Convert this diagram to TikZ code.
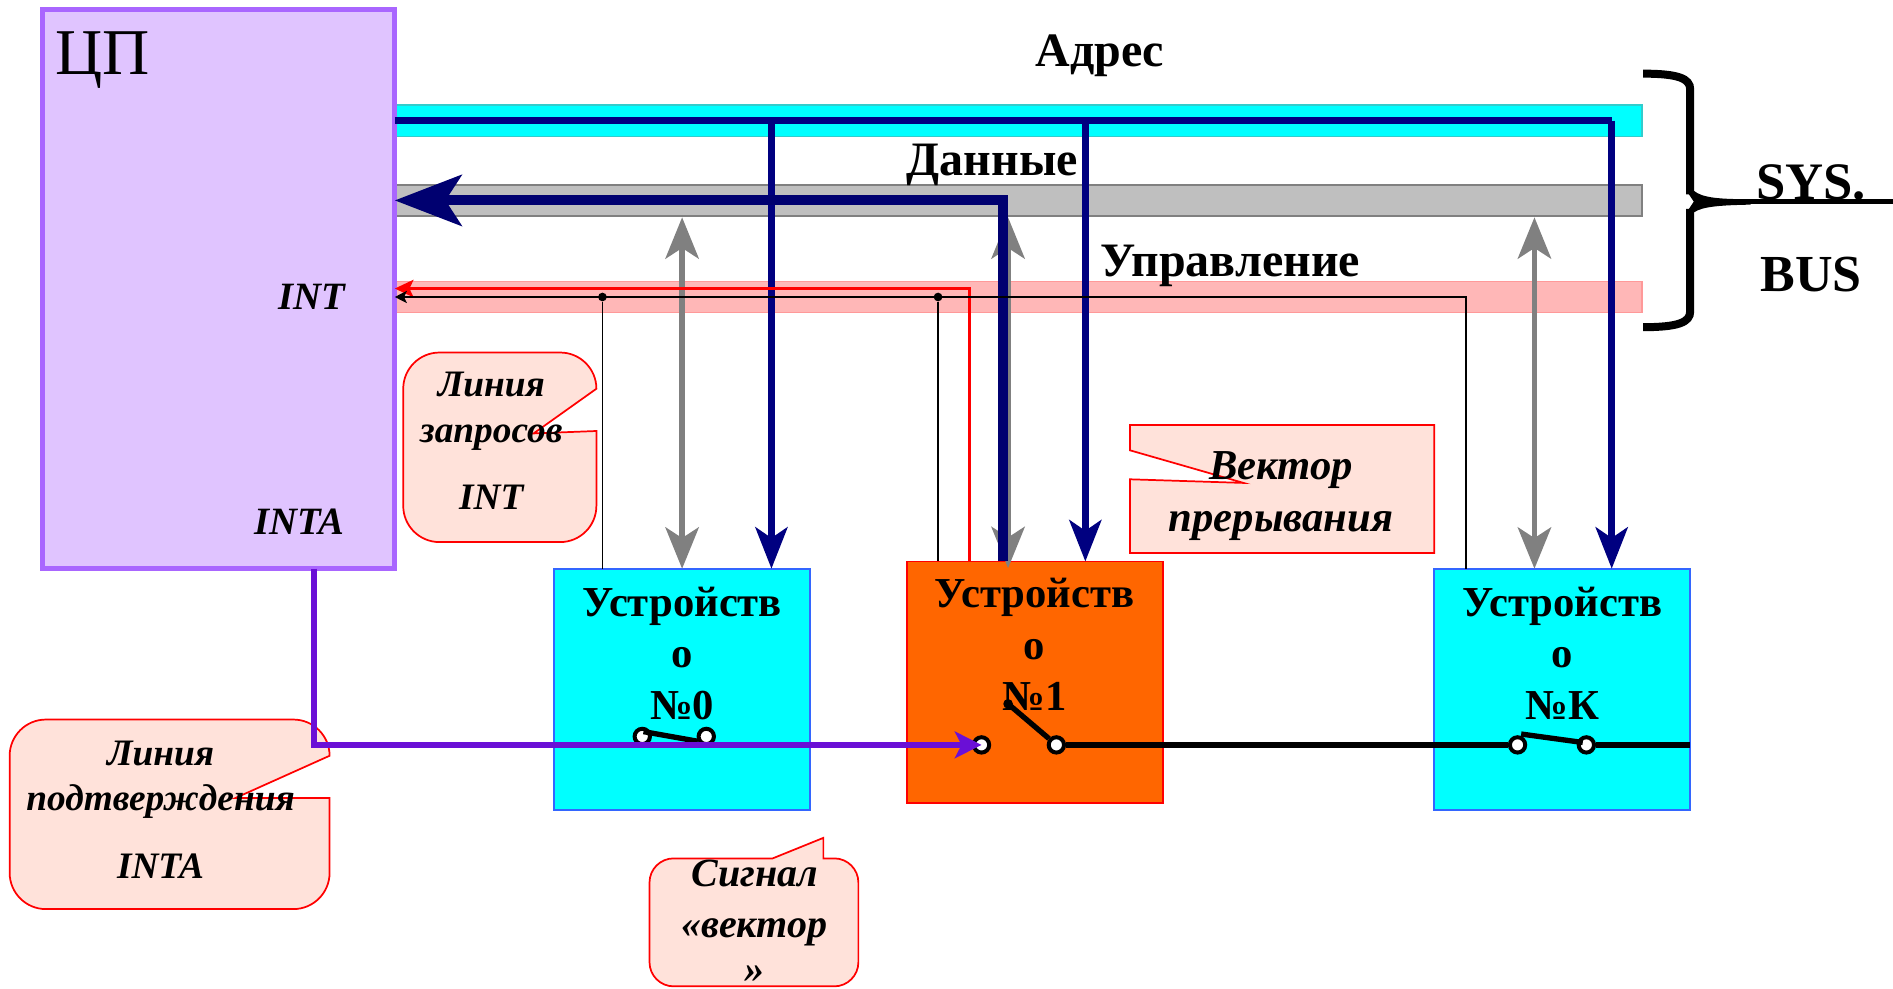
\documentclass[tikz,border=0pt]{standalone}
\usepackage{fontspec}
\setmainfont{Liberation Serif}
\usetikzlibrary{positioning,arrows.meta}
\definecolor{cpufill}{HTML}{E0C4FF}
\definecolor{cpuline}{HTML}{A966FF}
\definecolor{navyline}{HTML}{000080}
\definecolor{vecline}{HTML}{000070}
\definecolor{violetline}{HTML}{6A0FD6}
\definecolor{notefill}{HTML}{FFE2DA}
\definecolor{devline}{HTML}{3366FF}
\definecolor{devfill}{HTML}{00FFFF}
\definecolor{orangefill}{HTML}{FF6600}
\definecolor{pinkfill}{HTML}{FFB7B7}
\definecolor{pinkline}{HTML}{FF9999}
\definecolor{cyanline}{HTML}{33CCCC}
\tikzset{
	busbar/.style={minimum width=935.4pt,minimum height=23.5pt,inner sep=0pt,outer sep=0pt},
	devbox/.style={draw=devline,fill=devfill,line width=1.4pt,minimum width=192pt,minimum height=181pt,inner sep=0pt,outer sep=0pt},
	devtext/.style={align=center,font=\fontsize{32}{38.5}\selectfont\bfseries,inner sep=0pt},
	bustext/.style={font=\fontsize{36}{40}\selectfont\bfseries,inner sep=0pt},
	notetext/.style={align=center,font=\fontsize{28}{34}\selectfont\bfseries\itshape,inner sep=0pt},
	pintext/.style={font=\fontsize{29}{34}\selectfont\bfseries\itshape,inner sep=0pt},
	note/.style={draw=red,fill=notefill,line width=1.3pt},
	addrline/.style={draw=navyline,line width=5pt,-{Stealth[length=31pt,width=24pt,inset=8pt]}},
	dataarrow/.style={draw=gray,line width=4pt,{Stealth[length=31pt,width=25pt,inset=8pt]}-{Stealth[length=31pt,width=25pt,inset=8pt]}},
	busdot/.style={circle,fill=black,minimum size=6.5pt,inner sep=0pt},
	contact/.style={circle,draw=black,fill=white,line width=3pt,minimum size=11.5pt,inner sep=0pt},
	blade/.style={line width=4pt,black},
}
\begin{document}
\begin{tikzpicture}[x=0.9055pt,y=-0.9055pt]
	\useasboundingbox (0,0) rectangle (1568,819);
	%% system bus
	\node[busbar,fill=devfill,draw=cyanline,line width=1pt] (addrbus) at (843.5,100) {};
	\node[busbar,fill=lightgray,draw=gray,line width=1.2pt] (databus) at (843.5,166) {};
	\node[busbar,fill=pinkfill,draw=pinkline,line width=1pt] (ctrlbus) at (843.5,246) {};
	\node[bustext] (addrlabel) at (911,46) {Адрес};
	\node[bustext] (datalabel) at (822,137) {Данные};
	\node[bustext] (ctrllabel) at (1019,220) {Управление};
	%% cpu and devices
	\node[draw=cpuline,fill=cpufill,line width=3.6pt,minimum width=264.4pt,minimum height=419.2pt,inner sep=0pt,outer sep=0pt] (cpu) at (181,239.5) {};
	\node[font=\fontsize{49}{52}\selectfont,inner sep=0pt] (cpulabel) at (85,50) {ЦП};
	\node[pintext] (intpin) at (258,246) {INT};
	\node[pintext] (intapin) at (248,432) {INTA};
	\node[devbox] (dev0) at (565,571) {};
	\node[devbox,fill=orangefill,draw=red] (dev1) at (857,565) {};
	\node[devbox] (devk) at (1294,571) {};
	\node[devtext,below=13.5pt of dev0.north] (dev0text) {Устройств\\о\\№0};
	\node[devtext,below=12.5pt of dev1.north] (dev1text) {Устройств\\о\\№1};
	\node[devtext,below=13.5pt of devk.north] (devktext) {Устройств\\о\\№К};
	%% bidirectional data taps
	\coordinate (tap0) at (565,180);
	\coordinate (tap1) at (835,180);
	\coordinate (tapk) at (1271,180);
	\draw[dataarrow] (tap0) -- (tap0 |- dev0.north);
	\draw[dataarrow] (tap1) -- ([yshift=-5pt]tap1 |- dev1.north);
	\draw[dataarrow] (tapk) -- (tapk |- devk.north);
	%% address line
	\coordinate (addr0) at (639,100);
	\coordinate (addr1) at (899,100);
	\coordinate (addrk) at (1335,100);
	\draw[navyline,line width=5pt] (cpu.east |- addrbus) -- (addrk);
	\draw[addrline] (addr0) -- (addr0 |- dev0.north);
	\draw[addrline] (addr1) -- (addr1 |- dev1.north);
	\draw[addrline] (addrk) -- (addrk |- devk.north);
	%% vector on data lines
	\coordinate (vecstart) at (831,465);
	\coordinate (veccorner) at (831,166);
	\draw[draw=vecline,line width=7.5pt,-{Stealth[length=50pt,width=38pt,inset=12pt]}] (vecstart) -- (veccorner) -- (cpu.east |- veccorner);
	%% int lines
	\coordinate (redstart) at (803,465);
	\coordinate (redcorner) at (803,239);
	\draw[red,line width=2.2pt,-{Stealth[length=14pt,width=13pt,inset=3pt]}] (redstart) -- (redcorner) -- (cpu.east |- redcorner);
	\node[busdot] (dot0) at (499,246) {};
	\node[busdot] (dot1) at (777,246) {};
	\coordinate (intcorner) at (1214,246);
	\draw[black,line width=1.4pt,-{Stealth[length=9pt,width=9pt,inset=2pt]}] (intcorner |- devk.north) -- (intcorner) -- (cpu.east |- intcorner);
	\draw[black,line width=1.4pt] (dot0) -- (dot0 |- dev0.north);
	\draw[black,line width=1.4pt] (dot1) -- (dot1 |- dev1.north);
	%% notes
	\draw[note] (364,292) -- (464,292) arc (-90:0:30) -- (442,359) -- (494,357) -- (494,419) arc (0:90:30) -- (364,449) arc (90:180:30) -- (334,322) arc (180:270:30) -- cycle;
	\node[notetext] (noteint) at (407,365) {Линия\\[1pt]запросов\\[16pt]INT};
	\draw[note] (38,596) -- (243,596) arc (-90:0:30) -- (195,661) -- (273,661) -- (273,723) arc (0:90:30) -- (38,753) arc (90:180:30) -- (8,626) arc (180:270:30) -- cycle;
	\node[notetext] (noteinta) at (133,671) {Линия\\подтверждения\\[17pt]INTA};
	\draw[note] (936,352) -- (1188,352) -- (1188,458) -- (936,458) -- (936,397) -- (1030,400) -- (936,373) -- cycle;
	\node[notetext,font=\fontsize{32}{39}\selectfont\bfseries\itshape] (notevec) at (1061,411) {Вектор\\прерывания};
	\draw[note] (558,711) -- (640,711) -- (682,694) -- (682,711) -- (691,711) arc (-90:0:20) -- (711,797) arc (0:90:20) -- (558,817) arc (90:180:20) -- (538,731) arc (180:270:20) -- cycle;
	\node[notetext,font=\fontsize{30}{38}\selectfont\bfseries\itshape,anchor=north] (notesig) at (625,712) {Сигнал\\«вектор\\[-4pt]\smash{»}};
	%% daisy chain
	\node[contact] (sw0a) at (532,610) {};
	\node[contact] (sw0b) at (585,610) {};
	\node[contact] (sw1a) at (813,617) {};
	\node[contact] (sw1b) at (875,617) {};
	\node[contact] (swka) at (1257,617) {};
	\node[contact] (swkb) at (1314,617) {};
	\coordinate (blade0) at (533,606);
	\coordinate (blade0end) at (578,614);
	\coordinate (blade1) at (835,583);
	\coordinate (bladek) at (1260,608);
	\coordinate (bladekend) at (1311,615);
	\draw[blade] (blade0) -- (blade0end);
	\draw[blade] (blade1) -- (sw1b);
	\fill[black] (blade1) circle (4);
	\draw[blade] (bladek) -- (bladekend);
	\draw[black,line width=4.2pt] (sw1b) -- (swka) (swkb) -- (devk.east |- swkb);
	\coordinate (ackcorner) at (260,617);
	\draw[violetline,line width=4.4pt,-{Stealth[length=20pt,width=20pt,inset=5pt]}] (ackcorner |- cpu.south) -- (ackcorner) -- (sw1a.center);
	%% brace
	\coordinate (bracetop) at (1361,61);
	\coordinate (bracebot) at (1361,271);
	\coordinate (braceend) at (1568,167);
	\draw[black,line width=6pt] (bracetop) .. controls (1390,61) and (1400,65) .. (1400,74) -- (1400,161);
	\draw[black,line width=6pt] (bracebot) .. controls (1390,271) and (1400,267) .. (1400,258) -- (1400,173);
	\fill[black] (1397,158) -- (1403,158) .. controls (1410,164) and (1425,165) .. (1450,165) -- (1450,169.5) .. controls (1425,170) and (1410,171) .. (1403,176) -- (1397,176) -- (1403,167) -- cycle;
	\draw[black,line width=4.2pt] (1445,167) -- (braceend);
	\node[font=\fontsize{39.5}{42}\selectfont\bfseries,inner sep=0pt] (syslabel) at (1500,151) {SYS.};
	\node[font=\fontsize{39}{42}\selectfont\bfseries,inner sep=0pt] (buslabel) at (1500,227) {BUS};
\end{tikzpicture}
\end{document}
